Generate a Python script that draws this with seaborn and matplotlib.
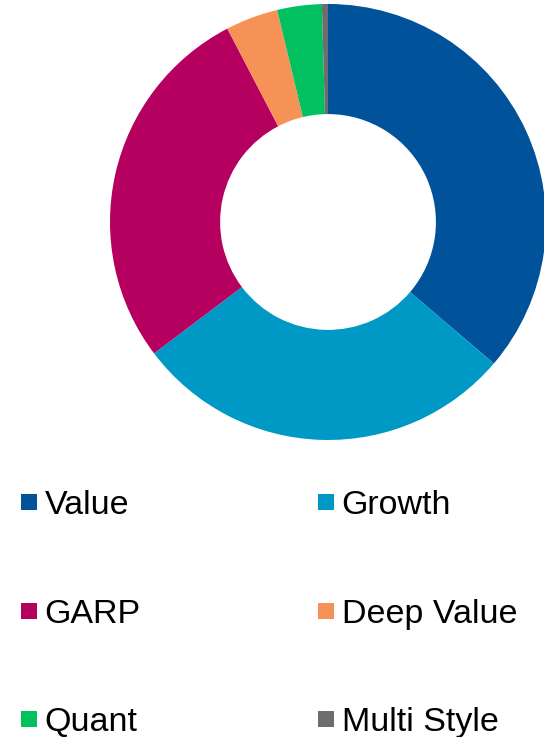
import seaborn as sns
import matplotlib.pyplot as plt
from matplotlib.lines import Line2D

# Style breakdown (share of assets, %)
styles = ["Value", "Growth", "GARP", "Deep Value", "Quant", "Multi Style"]
shares = [36.3, 28.5, 27.7, 3.9, 3.3, 0.45]
colors = ["#00529B", "#0099C6", "#B5005F", "#F79256", "#00C060", "#6D6D6D"]

sns.set_theme(style="white")
plt.rcParams["font.family"] = ["Liberation Sans", "DejaVu Sans"]

fig = plt.figure(figsize=(5.44, 7.37), dpi=100)
ax = fig.add_axes([0.2022, 0.403, 0.8015, 0.5916])

ax.pie(shares, colors=colors, startangle=90, counterclock=False,
       wedgeprops=dict(width=0.505, linewidth=0))
ax.set_xlim(-1, 1)
ax.set_ylim(-1, 1)
ax.set_aspect("equal")
ax.axis("off")

handles = [Line2D([], [], marker="s", linestyle="none", markersize=12,
                  markerfacecolor=c, markeredgewidth=0) for c in colors]
order = [0, 2, 4, 1, 3, 5]
fig.legend([handles[i] for i in order], [styles[i] for i in order],
           ncol=2, loc="upper left", bbox_to_anchor=(0.037, 0.335),
           frameon=False, fontsize=24.5, labelcolor="black", labelspacing=2.28,
           handlelength=0.5, handletextpad=0.22, columnspacing=5.18,
           borderaxespad=0, borderpad=0)

plt.savefig("out.png", dpi=100)
